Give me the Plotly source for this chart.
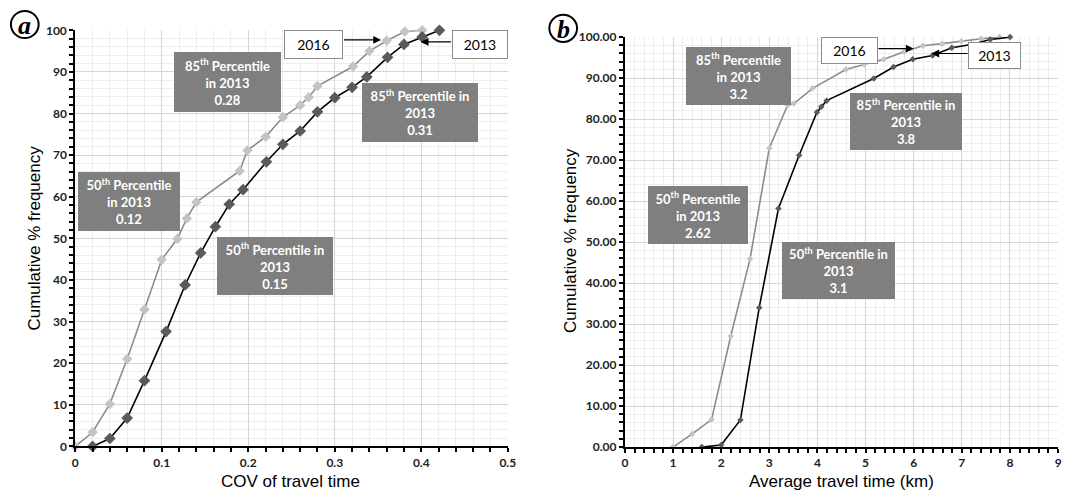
import plotly.graph_objects as go

# ---------------- data ----------------
# Panel a: COV of travel time
a_2016_x = [0, 0.02, 0.04, 0.06, 0.08, 0.10, 0.118, 0.129, 0.14, 0.19, 0.199, 0.22, 0.24, 0.26, 0.27, 0.28, 0.321, 0.34, 0.36, 0.381, 0.401]
a_2016_y = [0, 3.4, 10.2, 21.0, 32.9, 44.9, 49.9, 54.8, 58.7, 66.2, 71.1, 74.4, 79.1, 82.0, 83.9, 86.6, 91.3, 95.0, 97.5, 99.7, 100]
a_2013_x = [0.02, 0.04, 0.06, 0.08, 0.105, 0.127, 0.145, 0.162, 0.178, 0.194, 0.221, 0.24, 0.26, 0.28, 0.30, 0.32, 0.337, 0.361, 0.38, 0.401, 0.421]
a_2013_y = [0, 1.9, 6.8, 15.8, 27.6, 38.8, 46.5, 52.8, 58.2, 61.7, 68.4, 72.6, 75.8, 80.4, 83.8, 86.3, 88.8, 93.5, 96.6, 98.4, 100]

# Panel b: Average travel time
b_2016_x = [1.0, 1.4, 1.8, 2.2, 2.6, 3.0, 3.38, 3.51, 3.9, 4.59, 4.97, 5.38, 5.8, 6.19, 6.59, 6.99, 7.4, 7.78]
b_2016_y = [0, 3.2, 6.7, 27.1, 45.9, 72.9, 83.4, 83.8, 87.5, 92.1, 93.3, 94.6, 96.4, 97.9, 98.4, 99.0, 99.6, 100]
b_2013_x = [1.6, 2.0, 2.4, 2.79, 3.19, 3.62, 3.99, 4.08, 4.19, 5.17, 5.58, 5.98, 6.39, 6.79, 7.2, 7.59, 8.0]
b_2013_y = [0, 0.5, 6.6, 34.0, 58.2, 71.2, 81.7, 83.0, 84.5, 89.9, 92.7, 94.6, 95.5, 97.4, 98.2, 99.4, 100]

a_xticks = [0, 0.1, 0.2, 0.3, 0.4, 0.5]
a_yticks = [0, 10, 20, 30, 40, 50, 60, 70, 80, 90, 100]
b_xticks = [0, 1, 2, 3, 4, 5, 6, 7, 8, 9]
b_yticks = [0, 10, 20, 30, 40, 50, 60, 70, 80, 90, 100]

W, H = 1077, 499


def px_x(p):
    return p / W


def px_y(p):
    return (H - p) / H


fig = go.Figure()

LIGHT_LINE = "#8c8c8c"
LIGHT_MK = "#c4c4c4"
DARK_LINE = "#000000"
DARK_MK = "#5a5a5a"

fig.add_trace(go.Scatter(x=a_2016_x, y=a_2016_y, mode="lines+markers", name="2016",
                         line=dict(color=LIGHT_LINE, width=1.6),
                         marker=dict(symbol="diamond", size=8, color=LIGHT_MK),
                         cliponaxis=False, xaxis="x", yaxis="y"))
fig.add_trace(go.Scatter(x=a_2013_x, y=a_2013_y, mode="lines+markers", name="2013",
                         line=dict(color=DARK_LINE, width=1.6),
                         marker=dict(symbol="diamond", size=9, color=DARK_MK),
                         cliponaxis=False, xaxis="x", yaxis="y"))
fig.add_trace(go.Scatter(x=b_2016_x, y=b_2016_y, mode="lines+markers", name="2016",
                         line=dict(color=LIGHT_LINE, width=1.6),
                         marker=dict(symbol="diamond", size=5, color=LIGHT_MK),
                         cliponaxis=False, xaxis="x2", yaxis="y2"))
fig.add_trace(go.Scatter(x=b_2013_x, y=b_2013_y, mode="lines+markers", name="2013",
                         line=dict(color=DARK_LINE, width=1.6),
                         marker=dict(symbol="diamond", size=5, color=DARK_MK),
                         cliponaxis=False, xaxis="x2", yaxis="y2"))

tickfont = dict(family="Lato, Arial", size=12, color="#222222", weight="bold")
grid_major = "#d6d6d6"
grid_minor = "#ededed"

common = dict(showline=True, linecolor="black", linewidth=2, zeroline=False,
              showgrid=True, gridcolor=grid_major, gridwidth=1,
              ticks="outside", ticklen=4, tickcolor="black", tickwidth=1.5,
              tickfont=tickfont, fixedrange=True)

fig.update_layout(
    width=W, height=H,
    margin=dict(l=0, r=0, t=0, b=0),
    paper_bgcolor="white", plot_bgcolor="white",
    showlegend=False,
    xaxis=dict(domain=[px_x(73), px_x(510)], range=[0, 0.5], tickvals=a_xticks,
               ticktext=[str(v) for v in a_xticks], anchor="y",
               minor=dict(dtick=0.02, showgrid=True, gridcolor=grid_minor, ticks="outside",
                          ticklen=4, tickcolor="black", tickwidth=1.5), **common),
    yaxis=dict(domain=[px_y(452), px_y(23)], range=[0, 100], tickvals=a_yticks, anchor="x",
               minor=dict(dtick=2, showgrid=True, gridcolor=grid_minor, ticks="outside",
                          ticklen=4, tickcolor="black", tickwidth=1.5), **common),
    xaxis2=dict(domain=[px_x(628.3), px_x(1066)], range=[0, 9], tickvals=b_xticks, anchor="y2",
                minor=dict(dtick=0.2, showgrid=True, gridcolor=grid_minor, ticks="outside",
                           ticklen=4, tickcolor="black", tickwidth=1.5), **common),
    yaxis2=dict(domain=[px_y(452.7), px_y(30)], range=[0, 100], tickvals=b_yticks,
                tickformat=".2f", anchor="x2",
                minor=dict(dtick=2, showgrid=True, gridcolor=grid_minor, ticks="outside",
                           ticklen=4, tickcolor="black", tickwidth=1.5), **common),
)

ann = []
shapes = []

# axis arrowheads
for xr, yr, xend, yend in [("x", "y", 0.5, 100), ("x2", "y2", 9, 100)]:
    ann.append(dict(x=0, y=yend * 1.012, xref=xr, yref=yr, showarrow=True, text="",
                    ax=0, ay=18, arrowhead=2, arrowsize=1.2, arrowwidth=2, arrowcolor="black"))
    ann.append(dict(x=xend * 1.004, y=0, xref=xr, yref=yr, showarrow=True, text="",
                    ax=-18, ay=0, arrowhead=2, arrowsize=1.2, arrowwidth=2, arrowcolor="black"))

boxfont = dict(family="Lato, Arial", size=13, color="white", weight="bold")


def box(xr, yr, xc, yc, w, h, text):
    ann.append(dict(x=xc, y=yc, xref=xr, yref=yr, text=text, showarrow=False,
                    bgcolor="#7f7f7f", bordercolor="#7f7f7f", borderwidth=0, borderpad=0,
                    width=w, height=h, align="center", valign="middle", font=boxfont))


def label(xr, yr, xc, yc, w, h, text):
    ann.append(dict(x=xc, y=yc, xref=xr, yref=yr, text=text, showarrow=False,
                    bgcolor="white", bordercolor="#8c8c8c", borderwidth=1, borderpad=0,
                    width=w, height=h, align="center", valign="middle",
                    font=dict(family="Lato, Arial", size=14, color="black")))


def arrow(xr, yr, x0, x1, y):
    ann.append(dict(x=x1, y=y, ax=x0, ay=y, xref=xr, yref=yr, axref=xr, ayref=yr,
                    text="", showarrow=True, arrowhead=2, arrowsize=1.3, arrowwidth=1.2,
                    arrowcolor="black"))


# Panel a annotations
box("x", "y", 0.1756, 87.6, 107, 60, "85<sup>th</sup> Percentile<br>in 2013<br>0.28")
box("x", "y", 0.398, 80.3, 116, 59, "85<sup>th</sup> Percentile in<br>2013<br>0.31")
box("x", "y", 0.0618, 58.9, 102, 59, "50<sup>th</sup> Percentile<br>in 2013<br>0.12")
box("x", "y", 0.2311, 43.4, 116, 58, "50<sup>th</sup> Percentile in<br>2013<br>0.15")
arrow("x", "y", 0.309, 0.3535, 97.7)
arrow("x", "y", 0.436, 0.3993, 97.2)
label("x", "y", 0.2757, 96.7, 57, 27, "2016")
label("x", "y", 0.4674, 96.7, 54, 27, "2013")

# Panel b annotations
box("x2", "y2", 2.369, 90.5, 105, 58, "85<sup>th</sup> Percentile<br>in 2013<br>3.2")
box("x2", "y2", 5.834, 79.5, 112, 57, "85<sup>th</sup> Percentile in<br>2013<br>3.8")
box("x2", "y2", 1.516, 56.7, 100, 58, "50<sup>th</sup> Percentile<br>in 2013<br>2.62")
box("x2", "y2", 4.446, 43.1, 113, 57, "50<sup>th</sup> Percentile in<br>2013<br>3.1")
arrow("x2", "y2", 5.237, 5.998, 97.2)
arrow("x2", "y2", 7.150, 6.368, 96.0)
label("x2", "y2", 4.662, 96.7, 55, 25, "2016")
label("x2", "y2", 7.684, 95.5, 51, 25, "2013")

# axis titles
titlefont = dict(family="Liberation Sans, Arial", size=17, color="black")
ann.append(dict(x=px_x(290), y=px_y(488), xref="paper", yref="paper", text="COV of travel time",
                showarrow=False, font=titlefont, xanchor="center", yanchor="middle"))
ann.append(dict(x=px_x(847), y=px_y(488), xref="paper", yref="paper", text="Average travel time (km)",
                showarrow=False, font=titlefont, xanchor="center", yanchor="middle"))
ann.append(dict(x=px_x(32), y=px_y(237), xref="paper", yref="paper", text="Cumulative % frequency",
                showarrow=False, font=titlefont, textangle=-90, xanchor="center", yanchor="middle"))
ann.append(dict(x=px_x(574), y=px_y(240), xref="paper", yref="paper", text="Cumulative % frequency",
                showarrow=False, font=titlefont, textangle=-90, xanchor="center", yanchor="middle"))

# panel letters
for cx, cy, letter in [(22, 17, "a"), (566, 21, "b")]:
    r = 14
    shapes.append(dict(type="circle", xref="paper", yref="paper",
                       x0=px_x(cx - r), x1=px_x(cx + r), y0=px_y(cy + r), y1=px_y(cy - r),
                       line=dict(color="black", width=2)))
    ann.append(dict(x=px_x(cx), y=px_y(cy + 1), xref="paper", yref="paper",
                    text="<b><i>" + letter + "</i></b>", showarrow=False,
                    font=dict(family="Liberation Serif, DejaVu Serif", size=26, color="black"),
                    xanchor="center", yanchor="middle"))

fig.update_layout(annotations=ann, shapes=shapes)

fig.write_html("out.html")
